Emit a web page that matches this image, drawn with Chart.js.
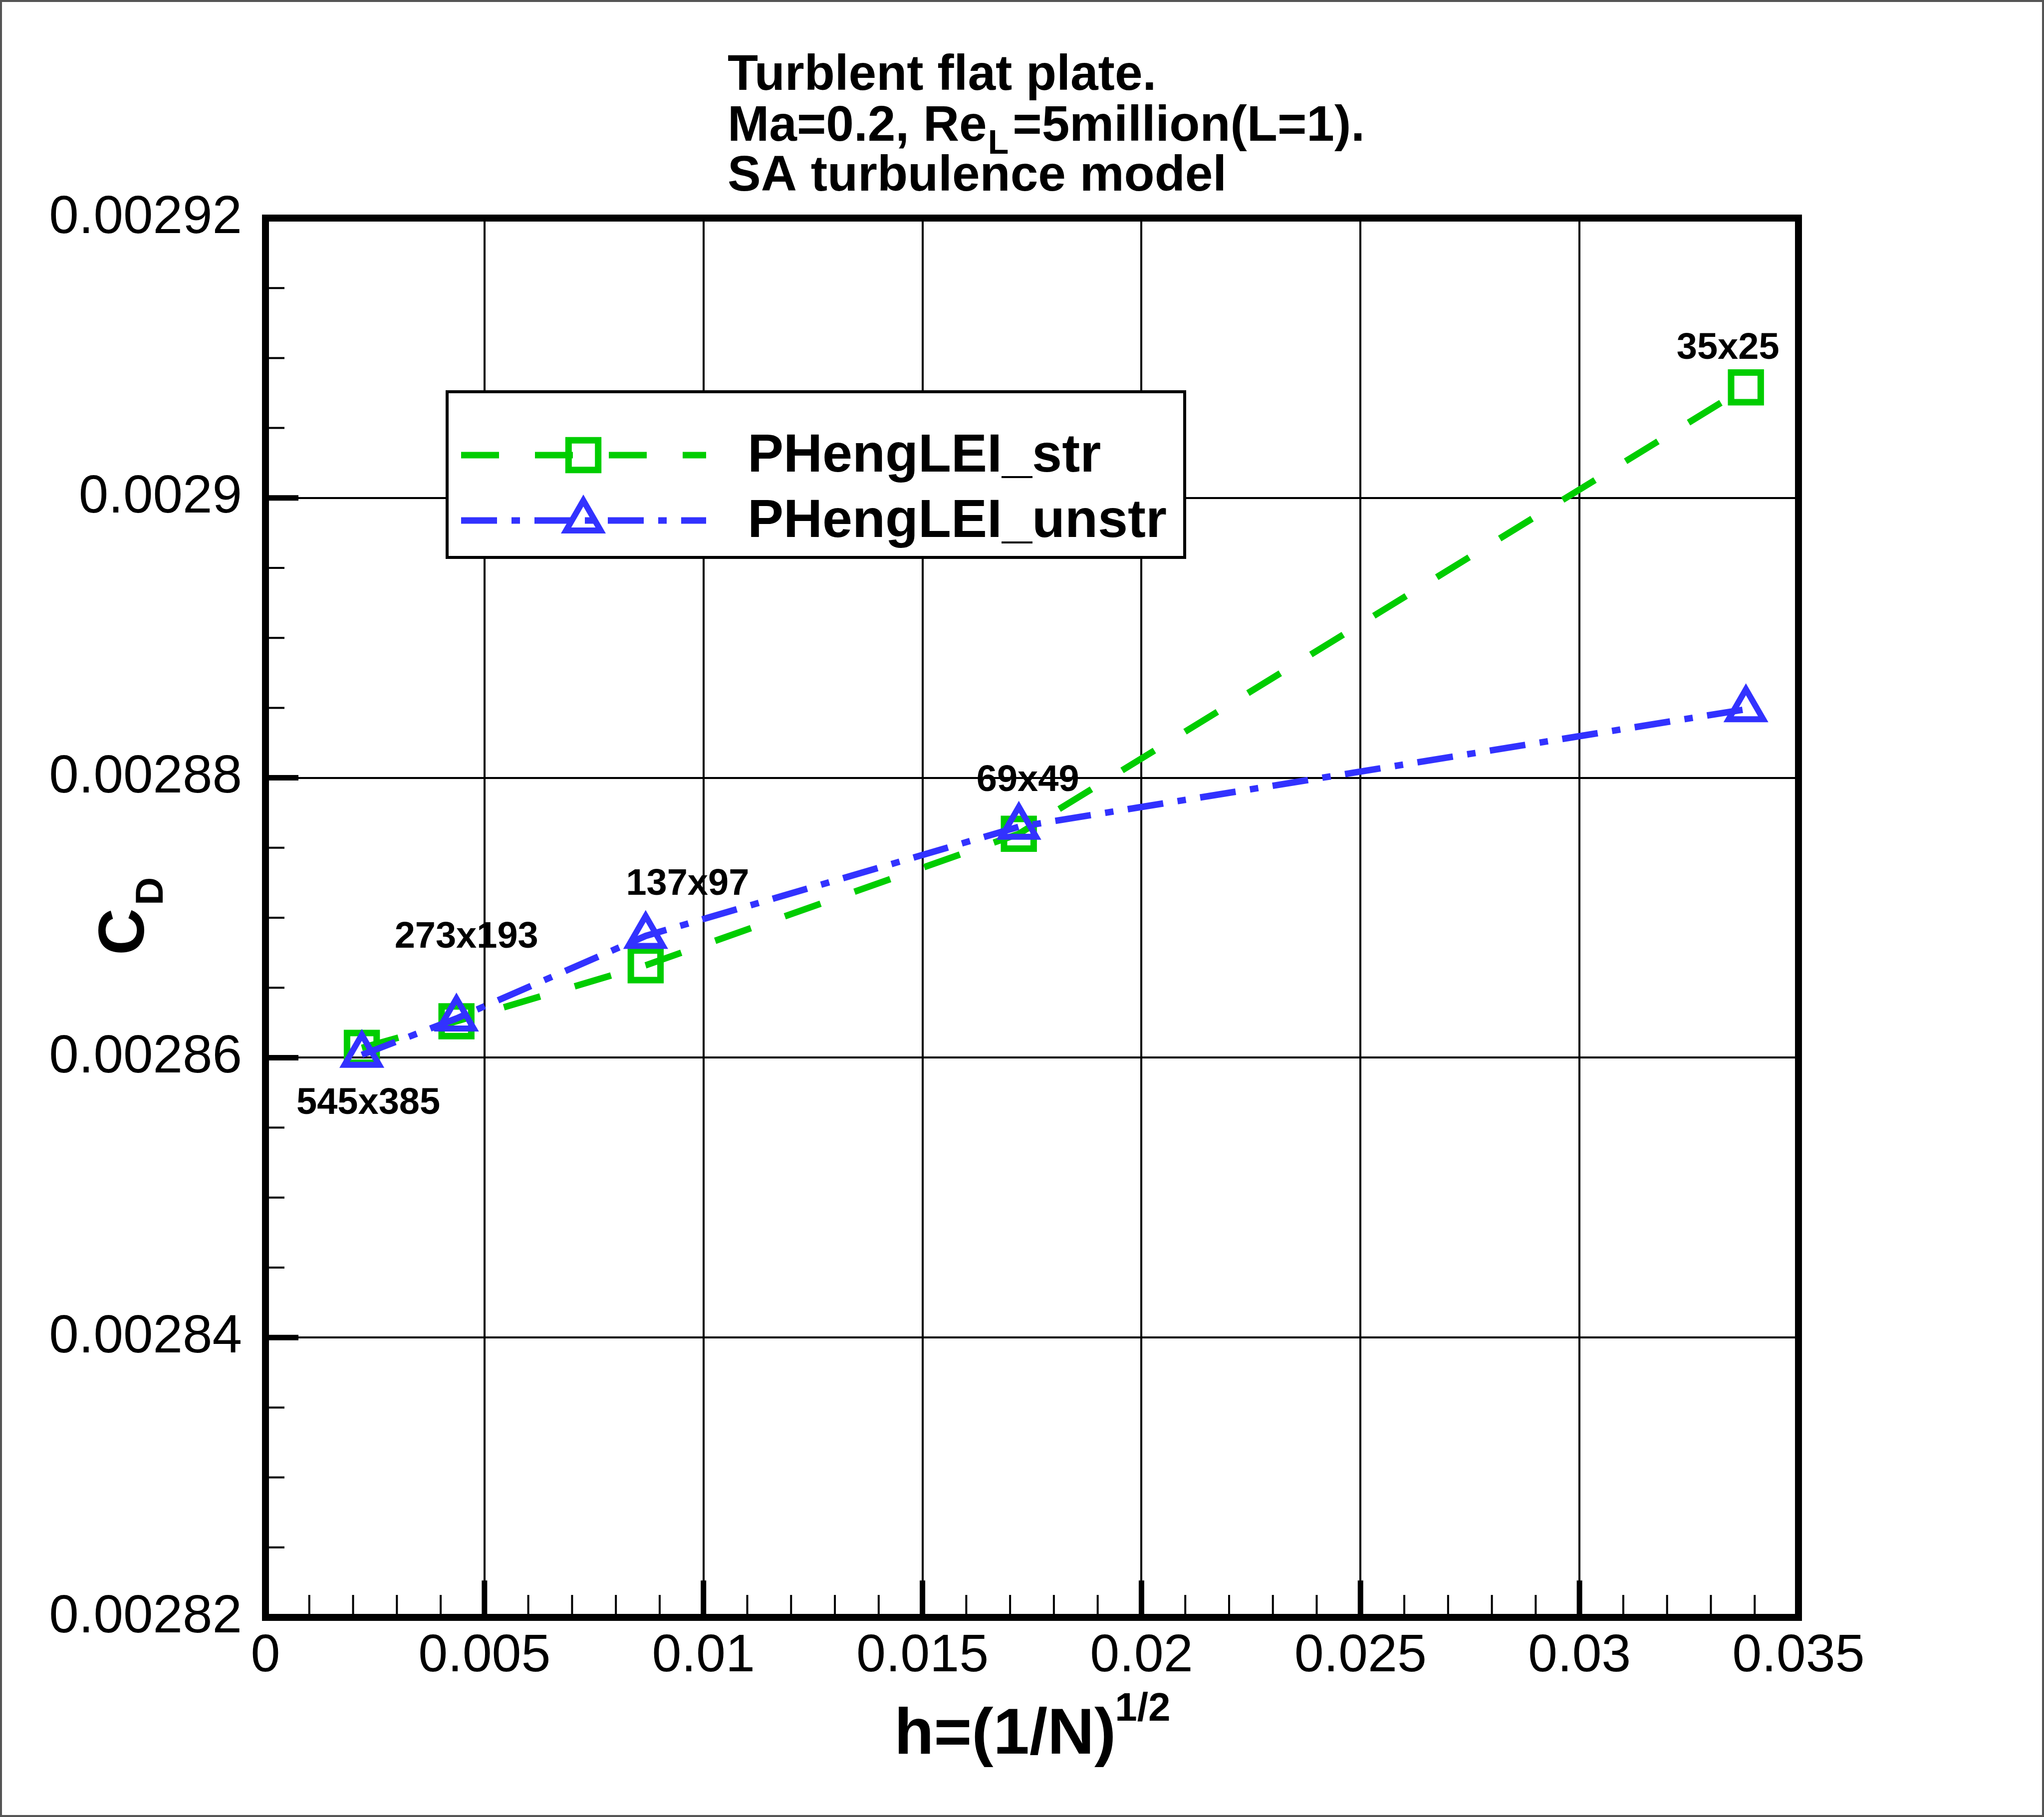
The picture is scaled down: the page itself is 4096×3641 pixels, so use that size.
<!DOCTYPE html>
<html>
<head>
<meta charset="utf-8">
<script src="https://cdn.jsdelivr.net/npm/chart.js@4.4.0/dist/chart.umd.min.js"></script>
<style>
    html, body { margin: 0; padding: 0; background: #fff; }
    canvas { display: block; }
</style>
</head>
<body>
<canvas id="cdChart" width="4096" height="3641" style="width:4096px;height:3641px"></canvas>
<script>
// Grid spacing h = (1/N)^(1/2) for each mesh
const hValues = [0.00220, 0.00436, 0.00868, 0.01720, 0.03380];
const gridNames = ['545x385', '273x193', '137x97', '69x49', '35x25'];

// Drag coefficient
const cdStructured = [0.0028607, 0.0028626, 0.0028666, 0.0028760, 0.0029079];
const cdUnstructured = [0.0028602, 0.0028628, 0.0028687, 0.0028765, 0.0028849];
const seriesNames = ['PHengLEI_str', 'PHengLEI_unstr'];

// Axis ticks
const xTickValues = [0, 0.005, 0.01, 0.015, 0.02, 0.025, 0.03, 0.035];
const xTickLabels = ['0', '0.005', '0.01', '0.015', '0.02', '0.025', '0.03', '0.035'];
const yTickValues = [0.00282, 0.00284, 0.00286, 0.00288, 0.0029, 0.00292];
const yTickLabels = ['0.00282', '0.00284', '0.00286', '0.00288', '0.0029', '0.00292'];

const GREEN = 'rgb(0,205,0)';
const BLUE = 'rgb(50,50,255)';
const FONT = "'Liberation Sans', Arial, Helvetica, sans-serif";

// pixel offsets of the mesh labels from the square markers
const labelOffsets = [[13, 106], [20, -173], [84, -167], [18, -112], [-36, -83]];

// draw a hollow marker the same way chart.js shapes it
function drawMarker(c, style, x, y, r) {
    c.beginPath();
    if (style === 'rect') {
        const s = 2 * r * Math.SQRT1_2;
        c.rect(x - s / 2, y - s / 2, s, s);
    } else {
        c.moveTo(x, y - r);
        c.lineTo(x + r * Math.sin(2 * Math.PI / 3), y + r / 2);
        c.lineTo(x - r * Math.sin(2 * Math.PI / 3), y + r / 2);
        c.closePath();
    }
    c.stroke();
}

const decorPlugin = {
    id: 'decor',
    beforeDraw(chart) {
        const c = chart.ctx;
        c.save();
        c.fillStyle = '#fff';
        c.fillRect(0, 0, chart.width, chart.height);
        c.restore();
    },
    afterDraw(chart) {
        const c = chart.ctx;
        const a = chart.chartArea;
        const xs = chart.scales.x;
        const ys = chart.scales.y;
        c.save();
        c.strokeStyle = '#000';
        c.setLineDash([]);

        // inward ticks: x has 4 minors per major, y has 3
        for (let i = 0; i <= 35; i++) {
            const px = xs.getPixelForValue(i * 0.001);
            const major = i % 5 === 0;
            c.lineWidth = major ? 11 : 4;
            c.beginPath();
            c.moveTo(px, a.bottom);
            c.lineTo(px, a.bottom - (major ? 74 : 45));
            c.stroke();
        }
        for (let i = 0; i <= 20; i++) {
            const py = ys.getPixelForValue(0.00282 + i * 0.000005);
            const major = i % 4 === 0;
            c.lineWidth = major ? 11 : 4;
            c.beginPath();
            c.moveTo(a.left, py);
            c.lineTo(a.left + (major ? 66 : 38), py);
            c.stroke();
        }

        // plot frame
        c.lineWidth = 14;
        c.strokeRect(a.left, a.top, a.right - a.left, a.bottom - a.top);

        // thin border round the whole picture
        c.strokeStyle = '#555';
        c.lineWidth = 4;
        c.strokeRect(2, 2, chart.width - 4, chart.height - 4);

        // mesh labels
        c.fillStyle = '#000';
        c.font = 'bold 74px ' + FONT;
        c.textAlign = 'center';
        c.textBaseline = 'alphabetic';
        const pts = chart.getDatasetMeta(0).data;
        gridNames.forEach((name, i) => {
            const p = pts[i];
            c.fillText(name, p.x + labelOffsets[i][0], p.y + labelOffsets[i][1] + 26);
        });

        // legend box
        c.fillStyle = '#fff';
        c.fillRect(896, 785, 1478, 332);
        c.strokeStyle = '#000';
        c.lineWidth = 6;
        c.strokeRect(896, 785, 1478, 332);
        const rows = [912, 1043];
        chart.data.datasets.forEach((ds, i) => {
            const y = rows[i];
            c.strokeStyle = ds.borderColor;
            c.lineWidth = ds.borderWidth;
            c.lineCap = 'butt';
            c.setLineDash(ds.borderDash);
            c.lineDashOffset = 0;
            c.beginPath();
            c.moveTo(924, y);
            c.lineTo(1415, y);
            c.stroke();
            c.setLineDash([]);
            c.lineWidth = ds.pointBorderWidth;
            drawMarker(c, ds.pointStyle, 1169, y, ds.pointRadius);
            c.fillStyle = '#000';
            c.font = 'bold 108px ' + FONT;
            c.textAlign = 'left';
            c.textBaseline = 'alphabetic';
            c.fillText(ds.label, 1498, y + 33);
        });

        // title block
        c.fillStyle = '#000';
        c.textAlign = 'left';
        c.font = 'bold 100px ' + FONT;
        c.fillText('Turblent flat plate.', 1458, 180);
        let tx = 1458;
        c.fillText('Ma=0.2, Re', tx, 282);
        tx += c.measureText('Ma=0.2, Re').width + 2;
        c.font = 'bold 68px ' + FONT;
        c.fillText('L', tx, 308);
        tx += c.measureText('L').width + 8;
        c.font = 'bold 100px ' + FONT;
        c.fillText('=5million(L=1).', tx, 282);
        c.fillText('SA turbulence model', 1458, 382);

        // x axis title
        c.font = 'bold 130px ' + FONT;
        c.fillText('h=(1/N)', 1792, 3514);
        const hw = c.measureText('h=(1/N)').width;
        c.font = 'bold 80px ' + FONT;
        c.fillText('1/2', 1792 + hw - 2, 3448);

        // y axis title, rotated
        c.translate(288, 1914);
        c.rotate(-Math.PI / 2);
        c.font = 'bold 130px ' + FONT;
        c.fillText('C', 0, 0);
        const cw = c.measureText('C').width;
        c.font = 'bold 78px ' + FONT;
        c.fillText('D', cw + 6, 38);

        c.restore();
    }
};

const ctx = document.getElementById('cdChart').getContext('2d');
const cdChart = new Chart(ctx, {
    type: 'line',
    data: {
        datasets: [{
            label: seriesNames[0],
            data: hValues.map((h, i) => ({ x: h, y: cdStructured[i] })),
            borderColor: GREEN,
            borderWidth: 13,
            borderDash: [76, 72],
            pointStyle: 'rect',
            pointRadius: 42,
            pointHoverRadius: 42,
            pointBorderWidth: 13,
            pointBorderColor: GREEN,
            pointBackgroundColor: 'rgba(0,0,0,0)',
            tension: 0,
            fill: false,
            order: 2
        }, {
            label: seriesNames[1],
            data: hValues.map((h, i) => ({ x: h, y: cdUnstructured[i] })),
            borderColor: BLUE,
            borderWidth: 13,
            borderDash: [72, 29, 17, 29],
            pointStyle: 'triangle',
            pointRadius: 40,
            pointHoverRadius: 40,
            pointBorderWidth: 12,
            pointBorderColor: BLUE,
            pointBackgroundColor: 'rgba(0,0,0,0)',
            tension: 0,
            fill: false,
            order: 1
        }]
    },
    options: {
        responsive: false,
        animation: false,
        devicePixelRatio: 1,
        layout: { padding: { left: 0, right: 492, top: 437, bottom: 0 } },
        plugins: {
            legend: { display: false },
            tooltip: { enabled: false },
            title: { display: false }
        },
        scales: {
            x: {
                type: 'linear',
                min: 0,
                max: 0.035,
                afterBuildTicks: s => { s.ticks = xTickValues.map(v => ({ value: v })); },
                afterFit: s => { s.height = 400; },
                grid: { color: '#000', lineWidth: 4, drawTicks: false },
                border: { display: false },
                ticks: {
                    color: '#000',
                    font: { family: FONT, size: 106 },
                    padding: 15,
                    maxRotation: 0,
                    autoSkip: false,
                    callback: (v, i) => xTickLabels[i]
                }
            },
            y: {
                type: 'linear',
                min: 0.00282,
                max: 0.00292,
                afterBuildTicks: s => { s.ticks = yTickValues.map(v => ({ value: v })); },
                afterFit: s => { s.width = 532; },
                grid: { color: '#000', lineWidth: 4, drawTicks: false },
                border: { display: false },
                ticks: {
                    color: '#000',
                    font: { family: FONT, size: 107 },
                    padding: 47,
                    autoSkip: false,
                    callback: (v, i) => yTickLabels[i]
                }
            }
        }
    },
    plugins: [decorPlugin]
});
</script>
</body>
</html>
